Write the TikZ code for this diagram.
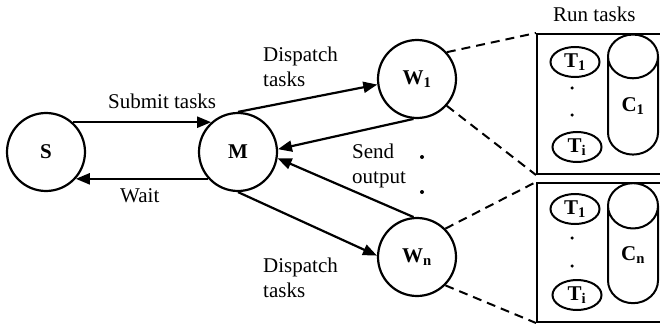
\documentclass[tikz,border=0pt]{standalone}
\usepackage{fontspec}
\setmainfont{Liberation Serif}
\usetikzlibrary{shapes.geometric,arrows.meta}
\tikzset{
  agent/.style={circle,draw,line width=2.2pt,minimum size=78pt,inner sep=0pt,font=\bfseries},
  task/.style={ellipse,draw,line width=2pt,minimum width=49pt,minimum height=30pt,inner sep=0pt,font=\bfseries},
  store/.style={cylinder,shape border rotate=90,draw,line width=2pt,minimum width=50pt,minimum height=120pt,aspect=1.9,inner sep=0pt,font=\bfseries},
  runbox/.style={rectangle,draw,line width=2pt,minimum width=137pt,inner sep=0pt},
  lbl/.style={anchor=base west,inner sep=0pt,align=left},
  msg/.style={-{Triangle[length=14pt,width=11pt]},line width=2.2pt},
  link/.style={line width=2pt,dash pattern=on 9pt off 6pt},
  pt/.style={circle,fill,inner sep=0pt,minimum size=4pt},
}
\begin{document}
\fontsize{21}{25}\selectfont
\begin{tikzpicture}[x=1pt,y=-1pt]
\useasboundingbox (0,0) rectangle (660,326);
\node[agent] (S) at (46,152) {S};
\node[agent] (M) at (238,152) {M};
\node[agent] (W1) at (417,79) {W\textsubscript{1}};
\node[agent] (Wn) at (417,257) {W\textsubscript{n}};
\node[pt] (g1) at (422,157) {};
\node[pt] (g2) at (422,192) {};
% worker 1
\node[runbox,minimum height=140pt] (B1) at (605.5,104) {};
\node[task] (T11) at (575,62) {T\textsubscript{1}};
\node[pt,minimum size=3.5pt] (d11) at (572,88) {};
\node[pt,minimum size=3.5pt] (d12) at (572,115) {};
\node[task] (T1i) at (577,147) {T\textsubscript{i}};
\node[store] (C1) at (633,106) {C\textsubscript{1}};
% worker n
\node[runbox,minimum height=139pt] (B2) at (605.5,252.5) {};
\node[task] (T21) at (575,209) {T\textsubscript{1}};
\node[pt,minimum size=3.5pt] (d21) at (572,238) {};
\node[pt,minimum size=3.5pt] (d22) at (572,266) {};
\node[task] (T2i) at (577,295) {T\textsubscript{i}};
\node[store] (C2) at (633,255) {C\textsubscript{n}};
% labels
\node[lbl] (l1) at (108,108) {Submit tasks};
\node[lbl] (l2) at (120,202) {Wait};
\node[lbl] (l3) at (263,87) {Dispatch\\tasks};
\node[lbl] (l4) at (263,297) {Dispatch\\tasks};
\node[lbl] (l5) at (352,183) {Send\\output};
\node[lbl] (l6) at (553,22) {Run tasks};
% arrows
\draw[msg] (S.48) -- (M.132);
\draw[msg] (M.-138) -- (S.-42);
\draw[msg] (M.north) -- (W1.188);
\draw[msg] (W1.265) -- (M.4);
\draw[msg] (Wn.95) -- (M.-9);
\draw[msg] (M.south) -- (Wn.178);
\draw[link] (W1.42) -- (B1.north west);
\draw[link] (W1.-42) -- (B1.south west);
\draw[link] (Wn.45) -- (B2.north west);
\draw[link] (Wn.-45) -- (B2.south west);
\end{tikzpicture}
\end{document}
